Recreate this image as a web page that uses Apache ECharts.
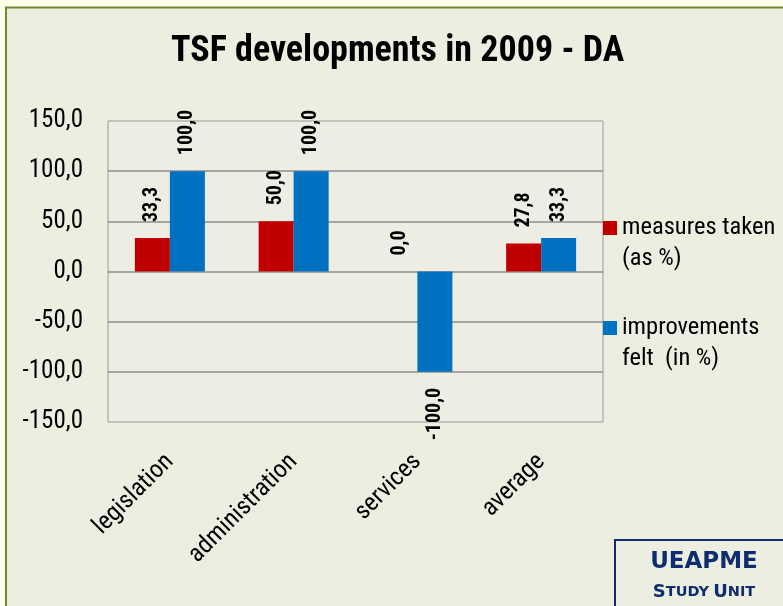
<!DOCTYPE html>
<html>
<head>
    <meta charset="utf-8">
    <script src="https://cdn.jsdelivr.net/npm/echarts@6.0.0/dist/echarts.min.js"></script>
    <style type="text/css">
        html, body { margin: 0; padding: 0; background: #FFFFE9; }
        #main { width: 783px; height: 606px; }
    </style>
</head>
<body>
    <div id="main"></div>
    <script type="text/javascript">
        // data
        var categories = ['legislation', 'administration', 'services', 'average'];
        var measuresTaken = [33.3, 50.0, 0.0, 27.8];
        var improvementsFelt = [100.0, 100.0, -100.0, 33.3];
        var seriesNames = ['measures taken\n(as %)', 'improvements\nfelt  (in %)'];
        var yTicks = { min: -150, max: 150, interval: 50 };

        var FONT = 'Roboto Condensed';
        var fmt = function (v) { return Number(v).toFixed(1).replace('.', ','); };

        // negative bars get their label below the bar
        function toData(arr) {
            return arr.map(function (v) {
                if (v < 0) {
                    return { value: v, label: { position: 'bottom', align: 'right' } };
                }
                return v;
            });
        }

        var barLabel = {
            show: true,
            position: 'top',
            rotate: 90,
            align: 'left',
            verticalAlign: 'middle',
            distance: 16,
            color: '#000',
            fontFamily: FONT,
            fontWeight: 'bold',
            fontSize: 20,
            formatter: function (p) { return fmt(p.value); }
        };

        // empty first line so that the first real line sits level with the key
        var legendText = {
            color: '#000',
            fontFamily: FONT,
            fontSize: 24.5,
            lineHeight: 31
        };
        var legendFmt = function (name) { return '\n' + name; };

        var myChart = echarts.init(document.getElementById('main'));
        var option = {
            animation: false,
            backgroundColor: 'transparent',
            color: ['#C00000', '#0070C0'],
            title: {
                text: 'TSF developments in 2009 - DA',
                left: 171,
                top: 34,
                padding: 0,
                textStyle: { fontFamily: FONT, fontWeight: 'bold', fontSize: 36, color: '#000' }
            },
            graphic: [
                {
                    type: 'rect', z: -10, silent: true,
                    shape: { x: 6, y: 7.5, width: 800, height: 620 },
                    style: { fill: '#ECEFE0', stroke: '#6A8A3A', lineWidth: 2 }
                },
                {
                    type: 'rect', z: 10, silent: true,
                    shape: { x: 615, y: 540, width: 200, height: 100 },
                    style: { fill: '#EDEEE2', stroke: '#0E2D6E', lineWidth: 2 }
                },
                {
                    type: 'text', z: 11, silent: true,
                    x: 704, y: 574,
                    style: {
                        text: 'UEAPME', fill: '#0E2D6E', align: 'center', verticalAlign: 'bottom',
                        fontFamily: 'DejaVu Sans', fontWeight: 'bold', fontSize: 23
                    }
                },
                {
                    type: 'text', z: 11, silent: true,
                    x: 704, y: 601,
                    style: {
                        text: '{b|S}{s|TUDY} {b|U}{s|NIT}', align: 'center', verticalAlign: 'bottom',
                        fill: '#0E2D6E', fontFamily: 'DejaVu Sans', fontWeight: 'bold',
                        rich: {
                            b: { fontSize: 18, fontWeight: 'bold', fontFamily: 'DejaVu Sans', fill: '#0E2D6E' },
                            s: { fontSize: 14.5, fontWeight: 'bold', fontFamily: 'DejaVu Sans', fill: '#0E2D6E' }
                        }
                    }
                }
            ],
            legend: [
                {
                    data: [seriesNames[0]], orient: 'vertical', left: 603, top: 181.5, padding: 0,
                    itemWidth: 14, itemHeight: 14, icon: 'rect', textStyle: legendText, formatter: legendFmt
                },
                {
                    data: [seriesNames[1]], orient: 'vertical', left: 603, top: 281.5, padding: 0,
                    itemWidth: 14, itemHeight: 14, icon: 'rect', textStyle: legendText, formatter: legendFmt
                }
            ],
            grid: {
                left: 108, right: 180, top: 121, bottom: 184,
                containLabel: false, outerBoundsMode: 'none',
                show: true, backgroundColor: '#EEEDE3', borderColor: '#9A9A9A', borderWidth: 1
            },
            xAxis: {
                type: 'category',
                data: categories,
                axisLine: { show: false },
                axisTick: { show: false },
                axisLabel: {
                    interval: 0, rotate: 45, margin: 36,
                    color: '#000', fontFamily: FONT, fontSize: 25
                }
            },
            yAxis: {
                type: 'value',
                min: yTicks.min, max: yTicks.max, interval: yTicks.interval,
                axisLine: { show: false },
                axisTick: { show: false },
                axisLabel: {
                    margin: 25, color: '#000', fontFamily: FONT, fontSize: 25,
                    formatter: fmt
                },
                splitLine: {
                    show: true, showMinLine: false, showMaxLine: false,
                    lineStyle: { color: '#8C8C8C', width: 1.5 }
                }
            },
            series: [
                {
                    name: seriesNames[0], type: 'bar', barWidth: 35, barGap: '0%',
                    label: barLabel, data: toData(measuresTaken)
                },
                {
                    name: seriesNames[1], type: 'bar', barWidth: 35, barGap: '0%',
                    label: barLabel, data: toData(improvementsFelt)
                }
            ]
        };
        myChart.setOption(option);
    </script>
</body>
</html>
